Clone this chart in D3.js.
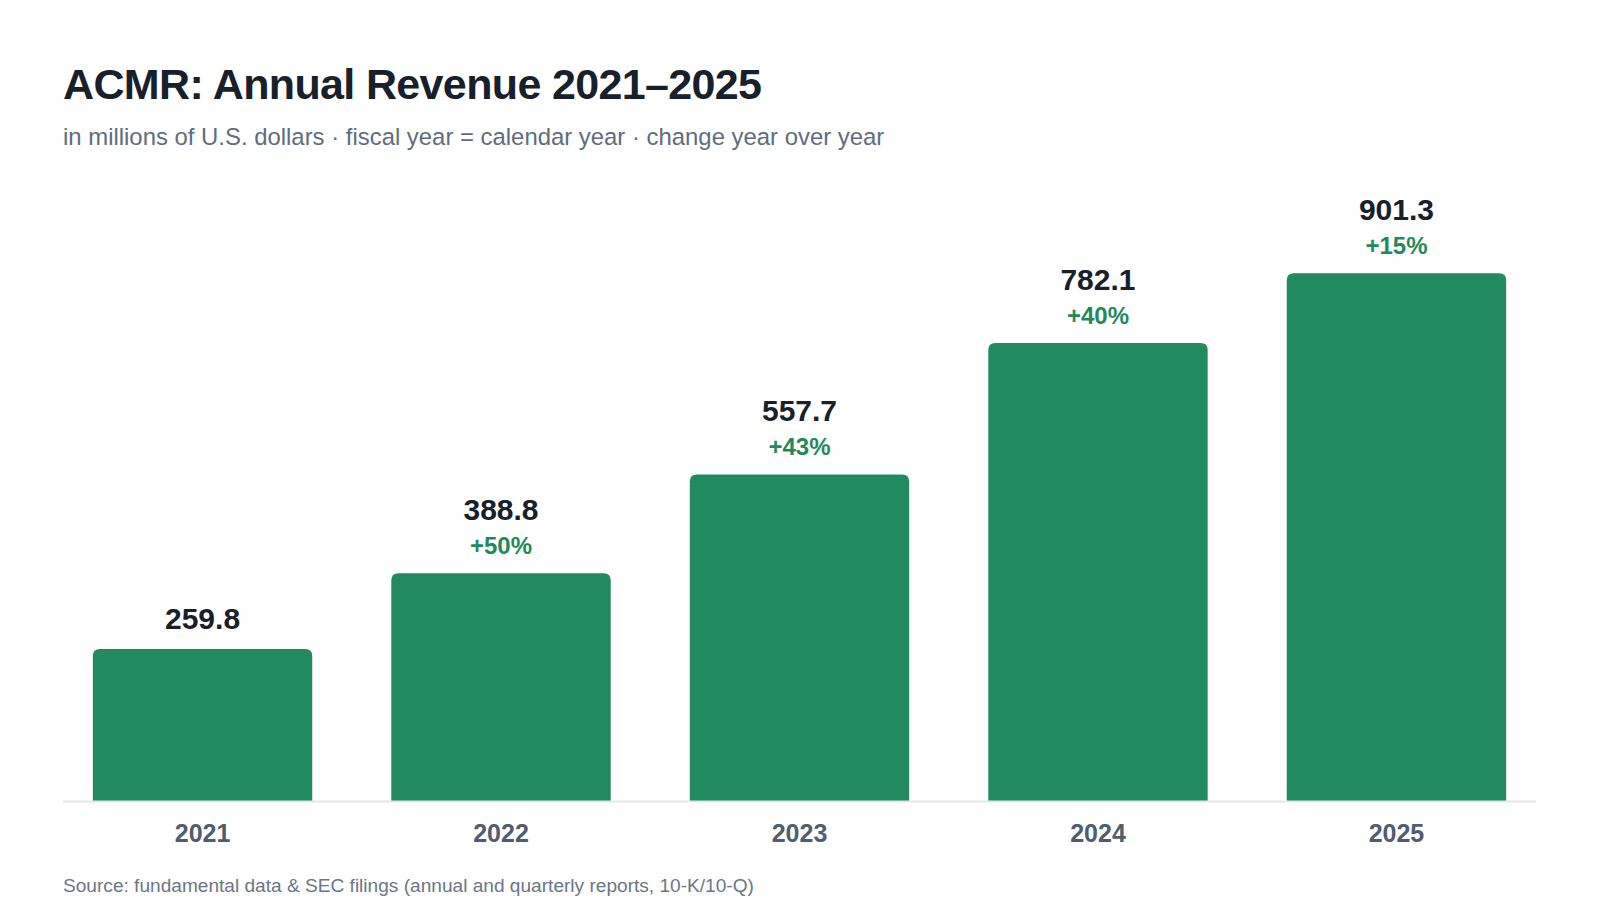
<!DOCTYPE html>
<html>
<head>
<meta charset="utf-8">
<title>ACMR Annual Revenue</title>
<script src="https://cdn.jsdelivr.net/npm/d3@7"></script>
<style>
  body { margin: 0; background: #ffffff; }
  svg { display: block; font-family: "Liberation Sans", Arial, Helvetica, sans-serif; }
</style>
</head>
<body>
<script>
// data
var years = ["2021", "2022", "2023", "2024", "2025"];
var revenue = [259.8, 388.8, 557.7, 782.1, 901.3];

var titleText = "ACMR: Annual Revenue 2021\u20132025";
var subtitleText = "in millions of U.S. dollars \u00b7 fiscal year = calendar year \u00b7 change year over year";
var sourceText = "Source: fundamental data & SEC filings (annual and quarterly reports, 10-K/10-Q)";

function init() {
    var w = 1600;
    var h = 900;
    var left = 63, right = 1536;
    var base = 801;
    var barColor = "#218b5f";

    var svg = d3.select("body")
                .append("svg")
                .attr("width", w)
                .attr("height", h);

    svg.append("rect")
       .attr("width", w)
       .attr("height", h)
       .attr("fill", "#ffffff");

    var xScale = d3.scaleBand()
                   .domain(years)
                   .range([left, right])
                   .paddingInner(0.265)
                   .paddingOuter(0.1);

    var yScale = d3.scaleLinear()
                   .domain([0, 1000])
                   .range([base, 215.5]);

    // one row per bar, change is year over year (null for the first year)
    var rows = years.map(function(y, i) {
        return {
            year: y,
            value: revenue[i],
            change: i === 0 ? null : Math.round((revenue[i] / revenue[i - 1] - 1) * 100)
        };
    });

    // title block
    svg.append("text")
       .attr("x", left)
       .attr("y", 99)
       .attr("fill", "#17202b")
       .style("font-size", "43px")
       .style("font-weight", "700")
       .style("letter-spacing", "-0.015em")
       .text(titleText);

    svg.append("text")
       .attr("x", left)
       .attr("y", 144.5)
       .attr("fill", "#5e6d7e")
       .style("font-size", "23.9px")
       .text(subtitleText);

    // bars with rounded top corners
    var r = 7;
    function barPath(d) {
        var x0 = xScale(d.year);
        var x1 = x0 + xScale.bandwidth();
        var y0 = yScale(d.value);
        return "M" + x0 + "," + base +
               "V" + (y0 + r) +
               "Q" + x0 + "," + y0 + " " + (x0 + r) + "," + y0 +
               "H" + (x1 - r) +
               "Q" + x1 + "," + y0 + " " + x1 + "," + (y0 + r) +
               "V" + base + "Z";
    }

    svg.selectAll("path.bar")
       .data(rows)
       .enter()
       .append("path")
       .attr("class", "bar")
       .attr("d", barPath)
       .attr("fill", barColor);

    // baseline
    svg.append("line")
       .attr("x1", left)
       .attr("x2", right)
       .attr("y1", base + 0.5)
       .attr("y2", base + 0.5)
       .attr("stroke", "#e3e8ed")
       .attr("stroke-width", 2);

    // value labels
    svg.selectAll("text.value")
       .data(rows)
       .enter()
       .append("text")
       .attr("class", "value")
       .attr("x", function(d) { return xScale(d.year) + xScale.bandwidth() / 2; })
       .attr("y", function(d) { return yScale(d.value) - (d.change === null ? 20 : 53); })
       .attr("text-anchor", "middle")
       .attr("fill", "#17202b")
       .style("font-size", "30px")
       .style("font-weight", "700")
       .text(function(d) { return d3.format(".1f")(d.value); });

    // change labels
    svg.selectAll("text.change")
       .data(rows.filter(function(d) { return d.change !== null; }))
       .enter()
       .append("text")
       .attr("class", "change")
       .attr("x", function(d) { return xScale(d.year) + xScale.bandwidth() / 2; })
       .attr("y", function(d) { return yScale(d.value) - 19; })
       .attr("text-anchor", "middle")
       .attr("fill", "#1f8a5b")
       .style("font-size", "24px")
       .style("font-weight", "700")
       .text(function(d) { return (d.change >= 0 ? "+" : "") + d.change + "%"; });

    // x axis labels
    var xAxis = d3.axisBottom(xScale).tickSize(0).tickPadding(0);
    var gx = svg.append("g")
                .attr("transform", "translate(0," + base + ")")
                .call(xAxis);
    gx.select(".domain").remove();
    gx.selectAll("text")
      .attr("y", 41)
      .attr("dy", null)
      .attr("fill", "#4f5d6e")
      .style("font-family", "\"Liberation Sans\", Arial, Helvetica, sans-serif")
      .style("font-size", "25px")
      .style("font-weight", "700");

    // source note
    svg.append("text")
       .attr("x", left)
       .attr("y", 892)
       .attr("fill", "#6b7684")
       .style("font-size", "19.1px")
       .text(sourceText);
}
window.onload = init;
</script>
</body>
</html>
